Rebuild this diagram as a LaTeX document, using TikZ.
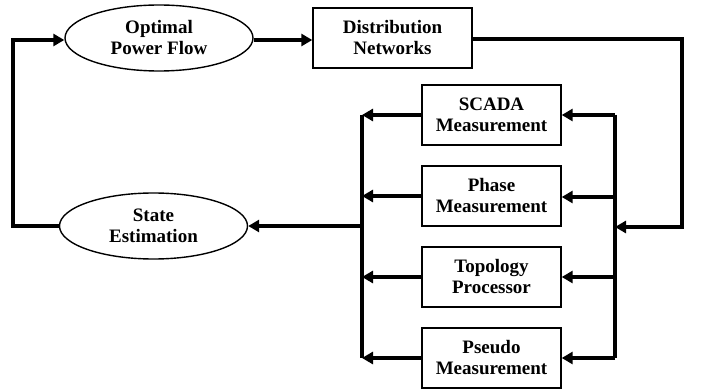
\documentclass[tikz,border=0pt]{standalone}
\usepackage{fontspec}
\setmainfont{Liberation Serif}
\usetikzlibrary{arrows.meta,shapes.geometric}
\begin{document}
\begin{tikzpicture}[x=1pt,y=-1pt,
  lbl/.style={font=\fontsize{19}{21}\selectfont\bfseries, align=center},
  oval/.style={lbl, ellipse, draw, line width=1.4pt, minimum width=188pt, minimum height=66pt, inner sep=0pt},
  rbox/.style={lbl, rectangle, draw, line width=1.4pt, minimum width=139pt, minimum height=60pt, inner sep=0pt},
  flow/.style={line width=3.4pt, -{Triangle[length=11pt,width=12pt]}},
  wire/.style={line width=3.4pt}]
\useasboundingbox (0,0) rectangle (701,390);
\node[oval] (opf) at (159,38) {Optimal\\Power Flow};
\node[rbox, minimum width=159pt] (dn) at (392.5,38) {Distribution\\Networks};
\node[oval] (se) at (153.5,226) {State\\Estimation};
\node[rbox] (scada) at (491.5,115) {SCADA\\Measurement};
\node[rbox] (phase) at (491.5,196) {Phase\\Measurement};
\node[rbox] (topo) at (491.5,277) {Topology\\Processor};
\node[rbox] (pseudo) at (491.5,358) {Pseudo\\Measurement};
\coordinate (rtop) at (615,115);
\coordinate (rbot) at (615,358);
\coordinate (ltop) at (362,115);
\coordinate (lbot) at (362,358);
\coordinate (rin) at (615,227);
\coordinate (lout) at (362,226);
\draw[flow] (opf.east |- 0,40) -- (dn.west |- 0,40);
\draw[flow] (dn.east |- 0,39) -| (682,227) -- (rin);
\draw[wire] (rtop) -- (rbot);
\draw[wire] (ltop) -- (lbot);
\draw[flow] (rtop) -- (scada.east);
\draw[flow] (615,197) -- (phase.east |- 0,197);
\draw[flow] (615,277) -- (topo.east);
\draw[flow] (rbot) -- (pseudo.east);
\draw[flow] (scada.west) -- (ltop);
\draw[flow] (phase.west) -- (362,196);
\draw[flow] (topo.west) -- (362,277);
\draw[flow] (pseudo.west) -- (lbot);
\draw[flow] (lout) -- (se.east);
\draw[flow] (se.west) -- (13,226) -- (13,40) -- (opf.west |- 0,40);
\end{tikzpicture}
\end{document}
